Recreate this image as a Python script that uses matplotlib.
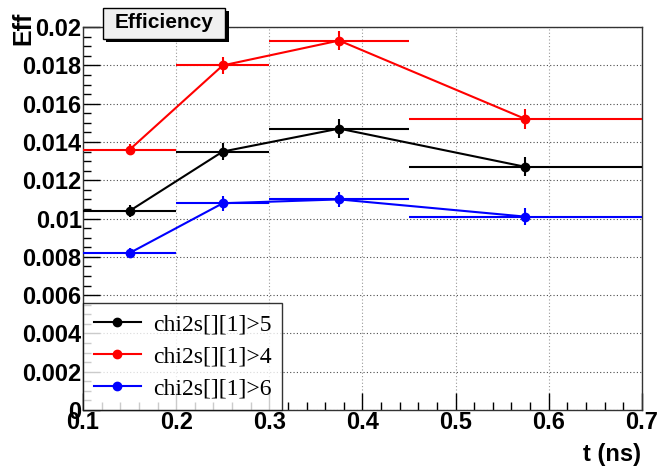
import numpy as np
import matplotlib
matplotlib.use("Agg")
import matplotlib.pyplot as plt
from matplotlib.ticker import MultipleLocator
from matplotlib.patches import Rectangle

# bin centres and bin edges
t_centres = [0.15, 0.25, 0.375, 0.575]
t_lo      = [0.10, 0.20, 0.30, 0.45]
t_hi      = [0.20, 0.30, 0.45, 0.70]

eff_chi5 = [0.0104, 0.0135, 0.0147, 0.0127]
err_chi5 = [0.00030, 0.00045, 0.00050, 0.00050]
eff_chi4 = [0.0136, 0.0180, 0.0193, 0.0152]
err_chi4 = [0.00030, 0.00045, 0.00050, 0.00050]
eff_chi6 = [0.0082, 0.0108, 0.0110, 0.0101]
err_chi6 = [0.00025, 0.00040, 0.00040, 0.00045]

SERIES = [
    ("chi2s[][1]>5", eff_chi5, err_chi5, "black"),
    ("chi2s[][1]>4", eff_chi4, err_chi4, "red"),
    ("chi2s[][1]>6", eff_chi6, err_chi6, "blue"),
]

BOLD = dict(family="Liberation Sans", fontweight="bold")

fig = plt.figure(figsize=(6.59, 4.68), dpi=100)
ax = fig.add_axes([0.126, 0.124, 0.848, 0.818])

x = np.array(t_centres)
xerr = [x - np.array(t_lo), np.array(t_hi) - x]
handles = []
for lab, y, e, c in SERIES:
    ax.errorbar(x, y, xerr=xerr, yerr=e, fmt="none", ecolor=c, elinewidth=1.5,
                capsize=0, zorder=3)
    h, = ax.plot(x, y, color=c, lw=1.5, marker="o", ms=6, zorder=4, label=lab)
    handles.append(h)

ax.set_xlim(0.1, 0.7)
ax.set_ylim(0, 0.02)
ax.xaxis.set_minor_locator(MultipleLocator(0.02))
ax.yaxis.set_minor_locator(MultipleLocator(0.0005))
ax.set_xticks(np.arange(0.1, 0.701, 0.1))
ax.set_xticklabels(["0.1", "0.2", "0.3", "0.4", "0.5", "0.6", "0.7"])
yt = np.arange(0, 0.02001, 0.002)
ax.set_yticks(yt)
ax.set_yticklabels(["0"] + [f"{v:g}" for v in yt[1:]])
ax.tick_params(which="both", direction="in", top=False, right=False)
ax.tick_params(which="major", length=12, width=1, labelsize=17, pad=1)
ax.tick_params(which="minor", length=6, width=1)
for lbl in ax.get_xticklabels() + ax.get_yticklabels():
    lbl.set_family("Liberation Sans"); lbl.set_fontweight("bold")
ax.grid(True, which="major", axis="y", ls=(0, (1, 2)), color="black", lw=0.8, alpha=0.7)
ax.grid(True, which="major", axis="x", ls=(0, (1, 2)), color="gray", lw=0.8, alpha=0.8)
for s in ax.spines.values():
    s.set_linewidth(1)
    s.set_color("#333333")

fig.text(0.972, 0.028, "t (ns)", ha="right", va="center", fontsize=17, **BOLD)
fig.text(0.035, 0.975, "Eff", ha="center", va="top", rotation=90, fontsize=18, **BOLD)

leg = ax.legend(handles=handles, loc="lower left", bbox_to_anchor=(0.0, 0.0),
                prop=dict(family="Liberation Serif", size=17), frameon=True,
                fancybox=False, edgecolor="black", handlelength=2.0,
                borderaxespad=0, labelspacing=0.45, borderpad=0.45,
                handletextpad=0.5)
leg.get_frame().set_linewidth(1)

# title box with shadow
fig.patches.append(Rectangle((0.161, 0.910), 0.186, 0.066, transform=fig.transFigure,
                             facecolor="black", zorder=5))
fig.patches.append(Rectangle((0.156, 0.916), 0.186, 0.066, transform=fig.transFigure,
                             facecolor="#f0f0f0", edgecolor="black", lw=1, zorder=6))
fig.text(0.249, 0.951, "Efficiency", ha="center", va="center", fontsize=15,
         zorder=7, **BOLD)

fig.savefig("out.png", dpi=100)
